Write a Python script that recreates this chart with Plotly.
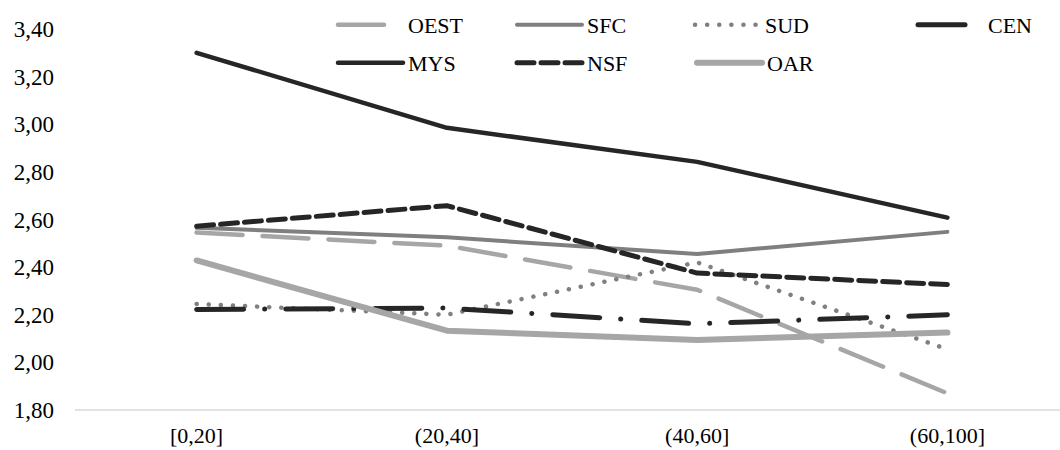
import plotly.graph_objects as go

categories = ["[0,20]", "(20,40]", "(40,60]", "(60,100]"]
series_names = ["OEST", "SFC", "SUD", "CEN", "MYS", "NSF", "OAR"]
OEST = [2.545, 2.49, 2.305, 1.87]
SFC = [2.565, 2.525, 2.455, 2.548]
SUD = [2.245, 2.20, 2.42, 2.055]
CEN = [2.222, 2.228, 2.162, 2.20]
MYS = [3.30, 2.985, 2.842, 2.608]
NSF = [2.572, 2.658, 2.375, 2.327]
OAR = [2.428, 2.133, 2.094, 2.125]
y_ticks = [1.8, 2.0, 2.2, 2.4, 2.6, 2.8, 3.0, 3.2, 3.4]

values = {"OEST": OEST, "SFC": SFC, "SUD": SUD, "CEN": CEN,
          "MYS": MYS, "NSF": NSF, "OAR": OAR}
styles = {
    "OEST": dict(color="#a6a6a6", width=4.5, dash="46px,20px"),
    "SFC": dict(color="#7f7f7f", width=4, dash="solid"),
    "SUD": dict(color="#808080", width=4.5, dash="0.1px,12px"),
    "CEN": dict(color="#262626", width=5, dash="47px,21px,0.1px,21px"),
    "MYS": dict(color="#262626", width=4.5, dash="solid"),
    "NSF": dict(color="#262626", width=5, dash="17px,7px"),
    "OAR": dict(color="#a6a6a6", width=6, dash="solid"),
}
# legend placement (container pixels): x of line start, y of row centre
leg_pos = {"OEST": (338, 25), "SFC": (517, 25), "SUD": (695, 25), "CEN": (918, 25),
           "MYS": (338, 63), "NSF": (517, 63), "OAR": (697, 63)}

W, H = 1060, 450
FONT = "Liberation Serif"

fig = go.Figure()
layout_legends = {}
for i, name in enumerate(series_names):
    lg = "legend" if i == 0 else f"legend{i+1}"
    fig.add_trace(go.Scatter(
        x=categories, y=values[name], name=name, mode="lines",
        line=styles[name], legend=lg, showlegend=True,
    ))
    px, py = leg_pos[name]
    layout_legends[lg] = dict(
        xref="container", yref="container",
        x=(px - 5) / W, y=1 - py / H, xanchor="left", yanchor="middle",
        bgcolor="rgba(0,0,0,0)", borderwidth=0,
        font=dict(family=FONT, size=22, color="#000000"),
        itemwidth=65, itemclick=False, itemdoubleclick=False,
    )

fig.update_layout(
    width=W, height=H,
    margin=dict(l=75, r=0, t=29, b=40, autoexpand=False),
    paper_bgcolor="white", plot_bgcolor="white",
    separators=",.",
    font=dict(family=FONT, size=23, color="#000000"),
    xaxis=dict(
        type="category", range=[-0.486, 3.45],
        showgrid=False, showline=False, zeroline=False, ticks="",
        tickfont=dict(family=FONT, size=22, color="#000000"),
        ticklabelstandoff=10, automargin=False,
    ),
    yaxis=dict(
        range=[1.8, 3.4], tickvals=y_ticks, tickformat=".2f",
        showgrid=False, zeroline=False, showline=False, ticks="",
        tickfont=dict(family=FONT, size=23, color="#000000"),
        ticklabelstandoff=20, automargin=False,
    ),
    shapes=[dict(type="line", xref="paper", yref="paper", x0=0, x1=1, y0=0, y1=0,
                 line=dict(color="#d9d9d9", width=1.5), layer="below")],
    **layout_legends,
)

post = ("document.querySelectorAll('.js-line').forEach(function(p){"
        "p.style.strokeLinecap='round';p.style.strokeLinejoin='round';});")
fig.write_html("out.html", post_script=post)
